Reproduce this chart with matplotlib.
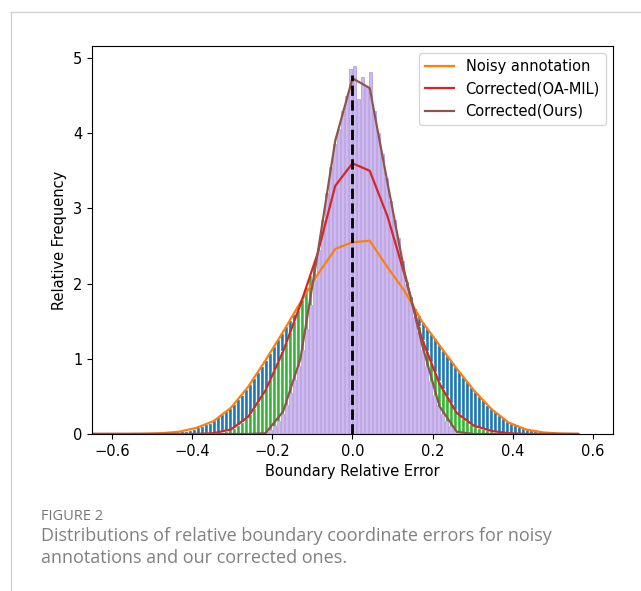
import numpy as np
import matplotlib
matplotlib.use("Agg")
import matplotlib.pyplot as plt
from matplotlib.lines import Line2D

# histogram bins (width 0.01, from -0.5 to 0.5)
bin_edges = np.round(np.arange(-0.50, 0.50, 0.01), 2)

# bar heights per bin
noisy_hist = [
    0.005, 0.008, 0.01, 0.012, 0.015, 0.02, 0.03, 0.035, 0.045, 0.055,
    0.07, 0.09, 0.11, 0.13, 0.15, 0.18, 0.22, 0.26, 0.30, 0.34,
    0.40, 0.46, 0.52, 0.60, 0.67, 0.74, 0.82, 0.90, 0.99, 1.08,
    1.17, 1.26, 1.34, 1.43, 1.52, 1.60, 1.70, 1.79, 1.88, 1.96,
    2.05, 2.13, 2.22, 2.30, 2.37, 2.44, 2.48, 2.51, 2.53, 2.55,
    2.56, 2.57, 2.57, 2.57, 2.55, 2.47, 2.39, 2.31, 2.23, 2.16,
    2.09, 2.01, 1.94, 1.85, 1.76, 1.67, 1.58, 1.49, 1.41, 1.34,
    1.27, 1.19, 1.12, 1.05, 0.98, 0.90, 0.84, 0.77, 0.70, 0.63,
    0.57, 0.51, 0.45, 0.39, 0.34, 0.30, 0.25, 0.21, 0.17, 0.14,
    0.12, 0.10, 0.08, 0.06, 0.05, 0.04, 0.03, 0.02, 0.015, 0.01,
]
oamil_hist = [
    0, 0, 0, 0, 0, 0, 0, 0, 0, 0,
    0.002, 0.003, 0.005, 0.007, 0.01, 0.013, 0.02, 0.03, 0.045, 0.06,
    0.08, 0.12, 0.16, 0.21, 0.27, 0.35, 0.43, 0.52, 0.61, 0.73,
    0.85, 0.97, 1.10, 1.22, 1.36, 1.50, 1.65, 1.80, 1.96, 2.12,
    2.28, 2.45, 2.66, 2.87, 3.08, 3.27, 3.37, 3.45, 3.52, 3.58,
    3.60, 3.58, 3.55, 3.52, 3.48, 3.34, 3.20, 3.06, 2.93, 2.76,
    2.58, 2.40, 2.22, 2.03, 1.83, 1.64, 1.44, 1.25, 1.10, 0.96,
    0.83, 0.70, 0.60, 0.50, 0.41, 0.32, 0.26, 0.21, 0.17, 0.13,
    0.10, 0.085, 0.07, 0.05, 0.04, 0.03, 0.02, 0.015, 0.01, 0.007,
    0.005, 0.003, 0.002, 0, 0, 0, 0, 0, 0, 0,
]
ours_hist = [
    0, 0, 0, 0, 0, 0, 0, 0, 0, 0,
    0, 0, 0, 0, 0, 0, 0, 0, 0, 0,
    0, 0, 0, 0, 0.002, 0.004, 0.006, 0.01, 0.02, 0.05,
    0.10, 0.17, 0.26, 0.39, 0.55, 0.72, 0.90, 1.12, 1.40, 1.72,
    2.05, 2.45, 2.85, 3.20, 3.55, 3.85, 4.05, 4.30, 4.50, 4.85,
    4.90, 4.45, 4.75, 4.62, 4.82, 4.30, 4.00, 3.72, 3.40, 3.10,
    2.85, 2.60, 2.30, 2.00, 1.78, 1.55, 1.35, 1.12, 0.90, 0.70,
    0.52, 0.38, 0.26, 0.17, 0.10, 0.06, 0.03, 0.015, 0.008, 0.004,
    0, 0, 0, 0, 0, 0, 0, 0, 0, 0,
    0, 0, 0, 0, 0, 0, 0, 0, 0, 0,
]

# coarse frequency curves
line_x = [-0.650, -0.607, -0.563, -0.520, -0.477, -0.433, -0.390, -0.347,
          -0.303, -0.260, -0.217, -0.173, -0.130, -0.087, -0.043, 0.000,
          0.043, 0.087, 0.130, 0.173, 0.217, 0.260, 0.303, 0.347,
          0.390, 0.433, 0.477, 0.520, 0.563]
noisy_line = [0, 0, 0, 0.003, 0.01, 0.03, 0.08, 0.17, 0.35, 0.63, 0.98, 1.36,
              1.75, 2.12, 2.46, 2.55, 2.57, 2.22, 1.90, 1.50, 1.18, 0.87,
              0.58, 0.33, 0.15, 0.06, 0.02, 0.005, 0]
oamil_line = [0, 0, 0, 0, 0, 0, 0, 0.01, 0.06, 0.23, 0.58, 1.10, 1.72, 2.40,
              3.30, 3.60, 3.50, 2.90, 2.12, 1.27, 0.67, 0.28, 0.11, 0.04,
              0.01, 0, 0, 0, 0]
ours_line = [0, 0, 0, 0, 0, 0, 0, 0, 0, 0, 0.01, 0.30, 1.00, 2.40, 3.90,
             4.73, 4.60, 3.35, 2.15, 1.20, 0.37, 0.03, 0, 0, 0, 0, 0, 0, 0]

fig = plt.figure(figsize=(6.41, 5.91), dpi=100)
ax = fig.add_axes([0.1435, 0.2657, 0.8128, 0.6565])

ax.bar(bin_edges, noisy_hist, width=0.01, align='edge', color='#1f77b4',
       edgecolor='white', linewidth=0.9)
ax.bar(bin_edges, oamil_hist, width=0.01, align='edge', color='#35b535',
       edgecolor='white', linewidth=0.9)
# purple bars: white backing, then narrower lavender bars with purple edges
ax.bar(bin_edges, ours_hist, width=0.01, align='edge', color='white',
       linewidth=0)
ax.bar(bin_edges + 0.001, ours_hist, width=0.0075, align='edge',
       color='#cdb9ee', edgecolor='#a282d8', linewidth=0.4)

ax.plot(line_x, noisy_line, color='#ff7f0e', lw=1.6, label='Noisy annotation')
ax.plot(line_x, oamil_line, color='#d62728', lw=1.6, label='Corrected(OA-MIL)')
ax.plot(line_x, ours_line, color='#8c564b', lw=1.6, label='Corrected(Ours)')
ax.vlines(0, 0, 4.78, colors='black', linestyles='--', lw=2)

ax.set_xlim(-0.65, 0.65)
ax.set_ylim(0, 5.16)
ax.set_xticks([-0.6, -0.4, -0.2, 0.0, 0.2, 0.4, 0.6])
ax.set_yticks([0, 1, 2, 3, 4, 5])
ax.tick_params(labelsize=10.5)
ax.set_xlabel('Boundary Relative Error', fontsize=10.5)
ax.set_ylabel('Relative Frequency', fontsize=10.5)
ax.legend(loc='upper right', fontsize=10.5)

# page frame lines
fig.add_artist(Line2D([11 / 641, 1], [1 - 12 / 591, 1 - 12 / 591],
                      color='#d3d3d3', lw=1, transform=fig.transFigure))
fig.add_artist(Line2D([11 / 641, 11 / 641], [0, 1 - 12 / 591],
                      color='#d3d3d3', lw=1, transform=fig.transFigure))

# caption
fig.text(41 / 641, 1 - 516 / 591, 'FIGURE 2', fontsize=10.5, color='#777777',
         family='Open Sans', va='center')
fig.text(41 / 641, 1 - 536 / 591,
         'Distributions of relative boundary coordinate errors for noisy',
         fontsize=13, color='#808080', family='Open Sans', va='center')
fig.text(41 / 641, 1 - 558 / 591, 'annotations and our corrected ones.',
         fontsize=13, color='#808080', family='Open Sans', va='center')

plt.savefig('out.png', dpi=100)
